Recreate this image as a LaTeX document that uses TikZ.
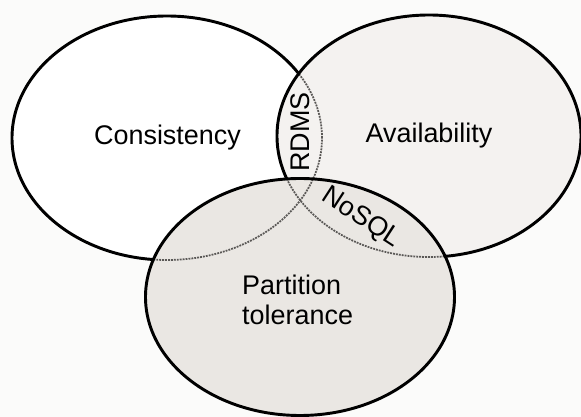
\documentclass[tikz,border=0pt]{standalone}
\usepackage{fontspec}
\setmainfont{Liberation Sans}
\definecolor{paper}{HTML}{FBFBFA}
\definecolor{consfill}{HTML}{FFFFFF}
\definecolor{availfill}{HTML}{F4F2F0}
\definecolor{partfill}{HTML}{EAE7E3}
\definecolor{hidden}{HTML}{5A5856}
\begin{document}
\begin{tikzpicture}[x=0.03cm,y=0.03cm,
  outline/.style={draw=black,line width=2.5pt},
  hiddenline/.style={draw=hidden,line width=1.5pt,dash pattern=on 1.6pt off 0.9pt},
  venntext/.style={font=\fontsize{23}{27}\selectfont,inner sep=0pt},
  % clip to the outside of the (counter-clockwise) closed path that follows:
  % the frame runs clockwise, so the nonzero rule leaves the inside out
  outside/.style={clip,insert path={(-50,-50) -- (-50,470) -- (650,470) -- (650,-50) -- cycle}}]
  \path[use as bounding box,fill=paper] (0,0) rectangle (581,417);

  % set centres
  \coordinate (C) at (167,279);
  \coordinate (A) at (429,281);
  \coordinate (P) at (300,120);

  % fills, bottom to top
  \fill[consfill]  (C) ellipse [x radius=155,  y radius=122];
  \fill[availfill] (A) ellipse [x radius=152,  y radius=121];
  \fill[partfill]  (P) ellipse [x radius=154.5,y radius=118.5];

  % hidden parts of the outlines
  \draw[hiddenline] (C) ellipse [x radius=155, y radius=122];
  \draw[hiddenline] (A) ellipse [x radius=152, y radius=121];

  % visible outlines
  \begin{scope}
    \path[outside] (A) ellipse [x radius=152, y radius=121];
    \path[outside] (P) ellipse [x radius=154.5, y radius=118.5];
    \draw[outline] (C) ellipse [x radius=155, y radius=122];
  \end{scope}
  \begin{scope}
    \path[outside] (P) ellipse [x radius=154.5, y radius=118.5];
    \draw[outline] (A) ellipse [x radius=152, y radius=121];
  \end{scope}
  \draw[outline] (P) ellipse [x radius=154.5, y radius=118.5];

  % labels
  \node[venntext,anchor=base] (cons) at (167.5,272) {Consistency};
  \node[venntext,anchor=base] (avail) at (429,274) {Availability};
  \node[venntext,anchor=base west] (part1) at (242,122) {Partition};
  \node[venntext,anchor=base west] (part2) at (242,92) {tolerance};
  \node[venntext,rotate=90] (rdms) at (300,285) {RDMS};
  \node[venntext,rotate=-33] (nosql) at (361,199) {NoSQL};
\end{tikzpicture}
\end{document}
